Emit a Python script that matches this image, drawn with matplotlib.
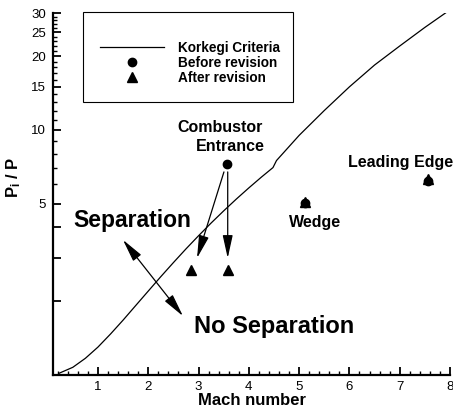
import matplotlib
matplotlib.use("Agg")
import matplotlib.pyplot as plt
from matplotlib.patches import Rectangle
from matplotlib.ticker import FixedLocator, NullFormatter, FixedFormatter

plt.rcParams['font.family'] = ['Liberation Sans', 'DejaVu Sans']
plt.rcParams['mathtext.fontset'] = 'custom'
plt.rcParams['mathtext.rm'] = 'Liberation Sans:bold'
plt.rcParams['mathtext.bf'] = 'Liberation Sans:bold'
plt.rcParams['mathtext.it'] = 'Liberation Sans:bold'

# Korkegi criteria curve
korkegi_mach = [0.22, 0.5, 0.75, 1.0, 1.25, 1.5, 1.75, 2.0, 2.25, 2.5, 2.75, 3.0, 3.25,
                3.5, 3.75, 4.0, 4.25, 4.48, 4.55, 5.0, 5.5, 6.0, 6.5, 7.0, 7.5, 7.95]
korkegi_ratio = [1.015, 1.075, 1.17, 1.30, 1.47, 1.675, 1.92, 2.20, 2.52, 2.875, 3.27, 3.70, 4.17,
                 4.675, 5.22, 5.80, 6.42, 7.02, 7.50, 9.50, 12.0, 14.99, 18.4, 22.0, 26.2, 30.4]

# Before revision (circles)
before_mach = [3.56, 5.12, 7.56]
before_ratio = [7.27, 5.03, 6.19]

# After revision (triangles)
after_mach = [2.85, 3.58, 5.12, 7.56]
after_ratio = [2.68, 2.68, 5.10, 6.28]

x_ticks = [1, 2, 3, 4, 5, 6, 7, 8]
y_major = [1, 2, 3, 4, 5, 10, 15, 20, 25, 30]
y_labels = ['', '', '', '', '5', '10', '15', '20', '25', '30']
y_minor = [6, 7, 8, 9, 11, 12, 13, 14, 16, 17, 18, 19, 21, 22, 23, 24, 26, 27, 28, 29]

W, H = 453, 409
fig = plt.figure(figsize=(W / 100, H / 100), dpi=100)
ax_l, ax_r, ax_b, ax_t = 52.7, 450.0, 375.0, 13.0
ax = fig.add_axes([ax_l / W, 1 - ax_b / H, (ax_r - ax_l) / W, (ax_b - ax_t) / H])

line, = ax.plot(korkegi_mach, korkegi_ratio, color='black', lw=0.9, label='Korkegi Criteria')
circ, = ax.plot(before_mach, before_ratio, 'o', color='black', ms=6, ls='none', label='Before revision')
tri, = ax.plot(after_mach, after_ratio, '^', color='black', ms=7, ls='none', label='After revision')

ax.set_yscale('log')
ax.set_xlim(0.1, 8)
ax.set_ylim(1, 30)

ax.yaxis.set_major_locator(FixedLocator(y_major))
ax.yaxis.set_major_formatter(FixedFormatter(y_labels))
ax.yaxis.set_minor_locator(FixedLocator(y_minor))
ax.yaxis.set_minor_formatter(NullFormatter())
ax.set_xticks(x_ticks)
ax.set_xticklabels([str(v) for v in x_ticks])
ax.set_xticks([i * 0.2 for i in range(1, 40) if i % 5 != 0], minor=True)

for s in ['top', 'right']:
    ax.spines[s].set_visible(False)
for s in ['left', 'bottom']:
    ax.spines[s].set_linewidth(1.6)

ax.tick_params(axis='both', which='major', direction='in', length=6, width=1.3, labelsize=9.5)
ax.tick_params(axis='both', which='minor', direction='in', length=3, width=1.0)
ax.tick_params(axis='x', which='major', pad=4)
ax.tick_params(axis='y', which='major', pad=5)

ax.set_xlabel('Mach number', fontsize=12, fontweight='bold')
ax.xaxis.set_label_coords(0.502, -0.05)
fig.text(14 / W, 1 - 177 / H, r'$\mathbf{P_i}$ / P', rotation=90, ha='center', va='center',
         fontsize=12, fontweight='bold')

# Legend
fig.patches.append(Rectangle((83 / W, 1 - 102 / H), 210 / W, 90 / H, transform=fig.transFigure,
                             fill=False, edgecolor='black', lw=0.8))
leg = fig.legend(handles=[line, circ, tri], loc='upper left', bbox_to_anchor=(100 / W, 1 - 41 / H),
                 frameon=False, prop={'weight': 'bold', 'size': 9.8},
                 handlelength=4.7, handletextpad=1.0, labelspacing=0.08, borderpad=0,
                 borderaxespad=0)

# Annotations
arrow_kw = dict(arrowstyle='-|>,head_length=1.0,head_width=0.22', color='black', lw=0.9,
                shrinkA=0, shrinkB=0, mutation_scale=14)
ax.annotate('', xy=(2.97, 3.0), xytext=(3.505, 6.74), arrowprops=arrow_kw)
ax.annotate('', xy=(3.58, 3.0), xytext=(3.58, 6.74), arrowprops=arrow_kw)
dbl_kw = dict(arrowstyle='<|-|>,head_length=1.0,head_width=0.22', color='black', lw=0.9,
              shrinkA=0, shrinkB=0, mutation_scale=14)
ax.annotate('', xy=(2.69, 1.74), xytext=(1.497, 3.56), arrowprops=dbl_kw)

ax.text(1.677, 4.29, 'Separation', fontsize=16.5, fontweight='bold', ha='center', va='center')
ax.text(4.50, 1.57, 'No Separation', fontsize=17, fontweight='bold', ha='center', va='center')
ax.text(3.43, 10.2, 'Combustor', fontsize=11.5, fontweight='bold', ha='center', va='center')
ax.text(3.64, 8.55, 'Entrance', fontsize=11.5, fontweight='bold', ha='center', va='center')
ax.text(5.32, 4.21, 'Wedge', fontsize=11.5, fontweight='bold', ha='center', va='center')
ax.text(5.97, 7.34, 'Leading Edge', fontsize=11.5, fontweight='bold', ha='left', va='center',
        clip_on=False)

fig.savefig('out.png', dpi=100)
